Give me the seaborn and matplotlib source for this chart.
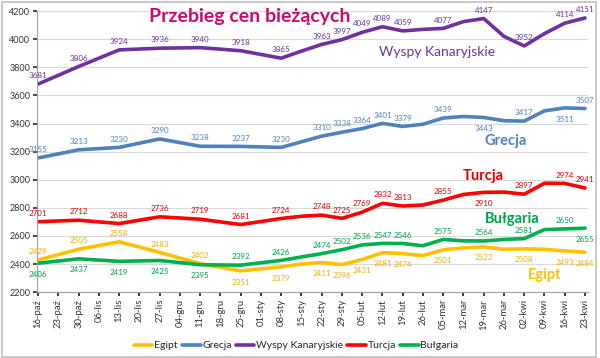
import numpy as np
import pandas as pd
import matplotlib.pyplot as plt
import seaborn as sns
from matplotlib.patches import Rectangle

# dates on the x axis (weekly)
dates = ["16-paź", "23-paź", "30-paź", "06-lis", "13-lis", "20-lis", "27-lis",
         "04-gru", "11-gru", "18-gru", "25-gru", "01-sty", "08-sty", "15-sty",
         "22-sty", "29-sty", "05-lut", "12-lut", "19-lut", "26-lut", "05-mar",
         "12-mar", "19-mar", "26-mar", "02-kwi", "09-kwi", "16-kwi", "23-kwi"]

N = None
# prices per destination (None = no reading that week)
egipt = [2429, N, 2505, N, 2558, N, 2483, N, 2402, N, 2351, N, 2379, 2400,
         2411, 2396, 2431, 2481, 2474, 2460, 2501, 2515, 2522, 2505, 2508, 2505, 2493, 2484]
grecja = [3155, N, 3213, N, 3230, N, 3290, N, 3238, N, 3237, N, 3230, 3270,
          3310, 3338, 3364, 3401, 3379, 3395, 3439, 3450, 3443, 3420, 3417, 3490, 3511, 3507]
wyspy = [3681, N, 3806, N, 3924, N, 3936, N, 3940, N, 3918, N, 3865, 3915,
         3963, 3997, 4049, 4089, 4059, 4070, 4077, 4125, 4147, 4020, 3952, 4040, 4114, 4151]
turcja = [2701, N, 2712, N, 2688, N, 2736, N, 2719, N, 2681, N, 2724, 2740,
          2748, 2725, 2769, 2832, 2813, 2820, 2855, 2895, 2910, 2912, 2897, 2975, 2974, 2941]
bulgaria = [2406, N, 2437, N, 2419, N, 2425, N, 2395, N, 2392, N, 2426, 2450,
            2474, 2502, 2536, 2547, 2546, 2530, 2575, 2565, 2564, 2575, 2581, 2645, 2650, 2655]

# weeks that carry a value label in the original chart
labelled = [0, 2, 4, 6, 8, 10, 12, 14, 15, 16, 17, 18, 20, 22, 24, 26, 27]

series = {"Egipt": egipt, "Grecja": grecja, "Wyspy Kanaryjskie": wyspy,
          "Turcja": turcja, "Bułgaria": bulgaria}
colors = {"Egipt": "#FFC000", "Grecja": "#4F81BD", "Wyspy Kanaryjskie": "#7030A0",
          "Turcja": "#FF0000", "Bułgaria": "#00B050"}
label_colors = {"Egipt": "#F0B000", "Grecja": "#4F81BD", "Wyspy Kanaryjskie": "#7030A0",
                "Turcja": "#E00000", "Bułgaria": "#00A048"}

# labels that sit below the line in the original
below = {
    "Egipt": [2351, 2379, 2411, 2396, 2431, 2481, 2474, 2501, 2522, 2508, 2493, 2484],
    "Grecja": [3443, 3511],
    "Wyspy Kanaryjskie": [],
    "Turcja": [2910],
    "Bułgaria": [2406, 2437, 2419, 2425, 2395, 2655],
}

rows = []
for name, vals in series.items():
    for i, v in enumerate(vals):
        if v is not None:
            rows.append({"pos": i, "cena": v, "kierunek": name})
df = pd.DataFrame(rows)

sns.set_theme(style="white")
plt.rcParams["font.family"] = ["Lato", "DejaVu Sans"]

fig = plt.figure(figsize=(6, 3.58), dpi=100)
ax = fig.add_axes([0.062, 0.184, 0.918, 0.785])

sns.lineplot(data=df, x="pos", y="cena", hue="kierunek", hue_order=list(series),
             palette=colors, linewidth=2.6, sort=True, ax=ax)

# value labels
for name, vals in series.items():
    for i in labelled:
        v = vals[i]
        dy = -8 if v in below[name] else 6
        ax.annotate(str(v), (i, v), xytext=(0, dy), textcoords="offset points",
                    ha="center", va="center", fontsize=5.8, color=label_colors[name])

# series names inside the plot
ax.text(19.7, 3908, "Wyspy Kanaryjskie", color="#7030A0", fontsize=10, ha="center", va="center")
ax.text(23.1, 3275, "Grecja", color="#4F81BD", fontsize=10.5, ha="center", va="center", fontweight="bold")
ax.text(22.0, 3026, "Turcja", color="#E00000", fontsize=10.5, ha="center", va="center", fontweight="bold")
ax.text(23.4, 2720, "Bułgaria", color="#00A048", fontsize=10.5, ha="center", va="center", fontweight="bold")
ax.text(25.0, 2321, "Egipt", color="#FFC000", fontsize=10.5, ha="center", va="center", fontweight="bold")

fig.text(0.417, 0.953, "Przebieg cen bieżących", color="#CC0A6E", fontsize=14,
         fontweight="bold", ha="center", va="center")

ax.set_xlim(-0.05, 27.15)
ax.set_ylim(2200, 4200)
ax.set_yticks(np.arange(2200, 4201, 200))
ax.set_xticks(range(len(dates)))
ax.set_xticklabels(dates, rotation=90, fontsize=6.8, color="#333333")
ax.tick_params(axis="y", labelsize=6.5, colors="#333333", length=3, pad=2, left=True)
ax.tick_params(axis="x", length=3, pad=2, bottom=True)
ax.grid(axis="y", color="#D9D9D9", linewidth=0.8)
ax.set_xlabel("")
ax.set_ylabel("")
for s in ["top", "right"]:
    ax.spines[s].set_visible(False)
for s in ["left", "bottom"]:
    ax.spines[s].set_color("#A0A0A0")
    ax.spines[s].set_linewidth(0.8)

sns.move_legend(ax, "center", bbox_to_anchor=(0.47, -0.19), ncol=5, frameon=False,
                title=None, fontsize=7.5, handlelength=1.8, columnspacing=0.4, handletextpad=0.15)

fig.patches.append(Rectangle((0.003, 0.004), 0.99, 0.99, transform=fig.transFigure,
                             fill=False, edgecolor="#BFBFBF", linewidth=1.2))

fig.savefig("out.png", dpi=100)
